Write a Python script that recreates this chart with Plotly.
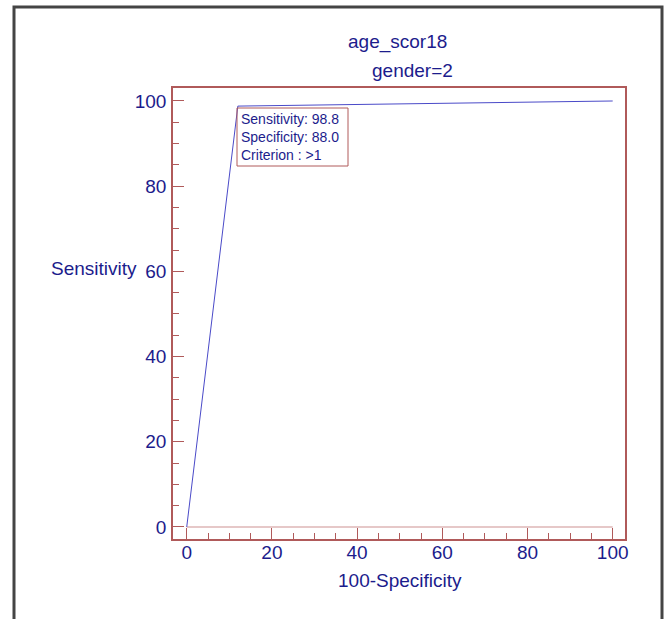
import plotly.graph_objects as go

# Data
fpr = [0, 12.0, 100]          # 100-Specificity
tpr = [0, 98.8, 100]          # Sensitivity
ref_x = [0, 100]
ref_y = [0, 0]
title_lines = ["age_scor18", "gender=2"]
crit_sens = 98.8
crit_spec = 88.0
crit_label = ">1"

NAVY = "#1c1c8c"
RED = "#b05a5a"
FONT = "Liberation Sans, Arial, sans-serif"

W, H = 670, 619
L, R, T, B = 173, 625, 88, 539
pw, ph = R - L, B - T

def px(x):
    return (x - L) / pw

def py(y):
    return (B - y) / ph

fig = go.Figure()
fig.add_trace(go.Scatter(x=ref_x, y=ref_y, mode="lines",
                         line=dict(color="#e6c8c8", width=2), hoverinfo="skip"))
fig.add_trace(go.Scatter(x=fpr, y=tpr, mode="lines",
                         line=dict(color="#4a4ac8", width=1), hoverinfo="skip"))

axis_common = dict(
    showgrid=False, zeroline=False, showline=True, mirror=True,
    linecolor=RED, linewidth=1.5,
    ticks="inside", ticklen=11, tickcolor=RED, tickwidth=1,
    tickfont=dict(family=FONT, size=19, color=NAVY),
    dtick=20, tick0=0,
    minor=dict(dtick=5, ticklen=6, tickcolor=RED, ticks="inside", showgrid=False),
)
fig.update_xaxes(range=[-3.22, 102.89], ticklabelstandoff=-5, **axis_common)
fig.update_yaxes(range=[-2.82, 103.05], ticklabelstandoff=1, **axis_common)

tfont = dict(family=FONT, size=19, color=NAVY)
annotations = [
    dict(x=px(397), y=py(42), xref="paper", yref="paper", text=title_lines[0],
         xanchor="center", yanchor="middle", showarrow=False, font=tfont),
    dict(x=px(412), y=py(70), xref="paper", yref="paper", text=title_lines[1],
         xanchor="center", yanchor="middle", showarrow=False, font=tfont),
    dict(x=px(400), y=py(580), xref="paper", yref="paper", text="100-Specificity",
         xanchor="center", yanchor="middle", showarrow=False, font=tfont),
    dict(x=px(139), y=py(268), xref="paper", yref="paper", text="Sensitivity",
         xanchor="right", yanchor="middle", showarrow=False, font=tfont),
    dict(x=px(240), y=py(110), xref="paper", yref="paper", xanchor="left", yanchor="top",
         text=f"Sensitivity: {crit_sens:.1f}<br>Specificity: {crit_spec:.1f}<br>Criterion : {crit_label}",
         align="left", showarrow=False, borderpad=0,
         font=dict(family=FONT, size=14, color=NAVY)),
]

shapes = [
    dict(type="path", xref="paper", yref="paper",
         path=f"M {px(14)} {py(650)} L {px(14)} {py(7)} L {px(662)} {py(7)} L {px(662)} {py(650)}",
         line=dict(color="#444444", width=3)),
    dict(type="rect", xref="paper", yref="paper",
         x0=px(237), x1=px(348), y0=py(108), y1=py(166),
         line=dict(color=RED, width=1), fillcolor="rgba(0,0,0,0)"),
]

fig.update_layout(
    width=W, height=H, autosize=False,
    margin=dict(l=L, r=W - R, t=T, b=H - B),
    paper_bgcolor="white", plot_bgcolor="white",
    showlegend=False, annotations=annotations, shapes=shapes,
)

fig.write_html("out.html")
